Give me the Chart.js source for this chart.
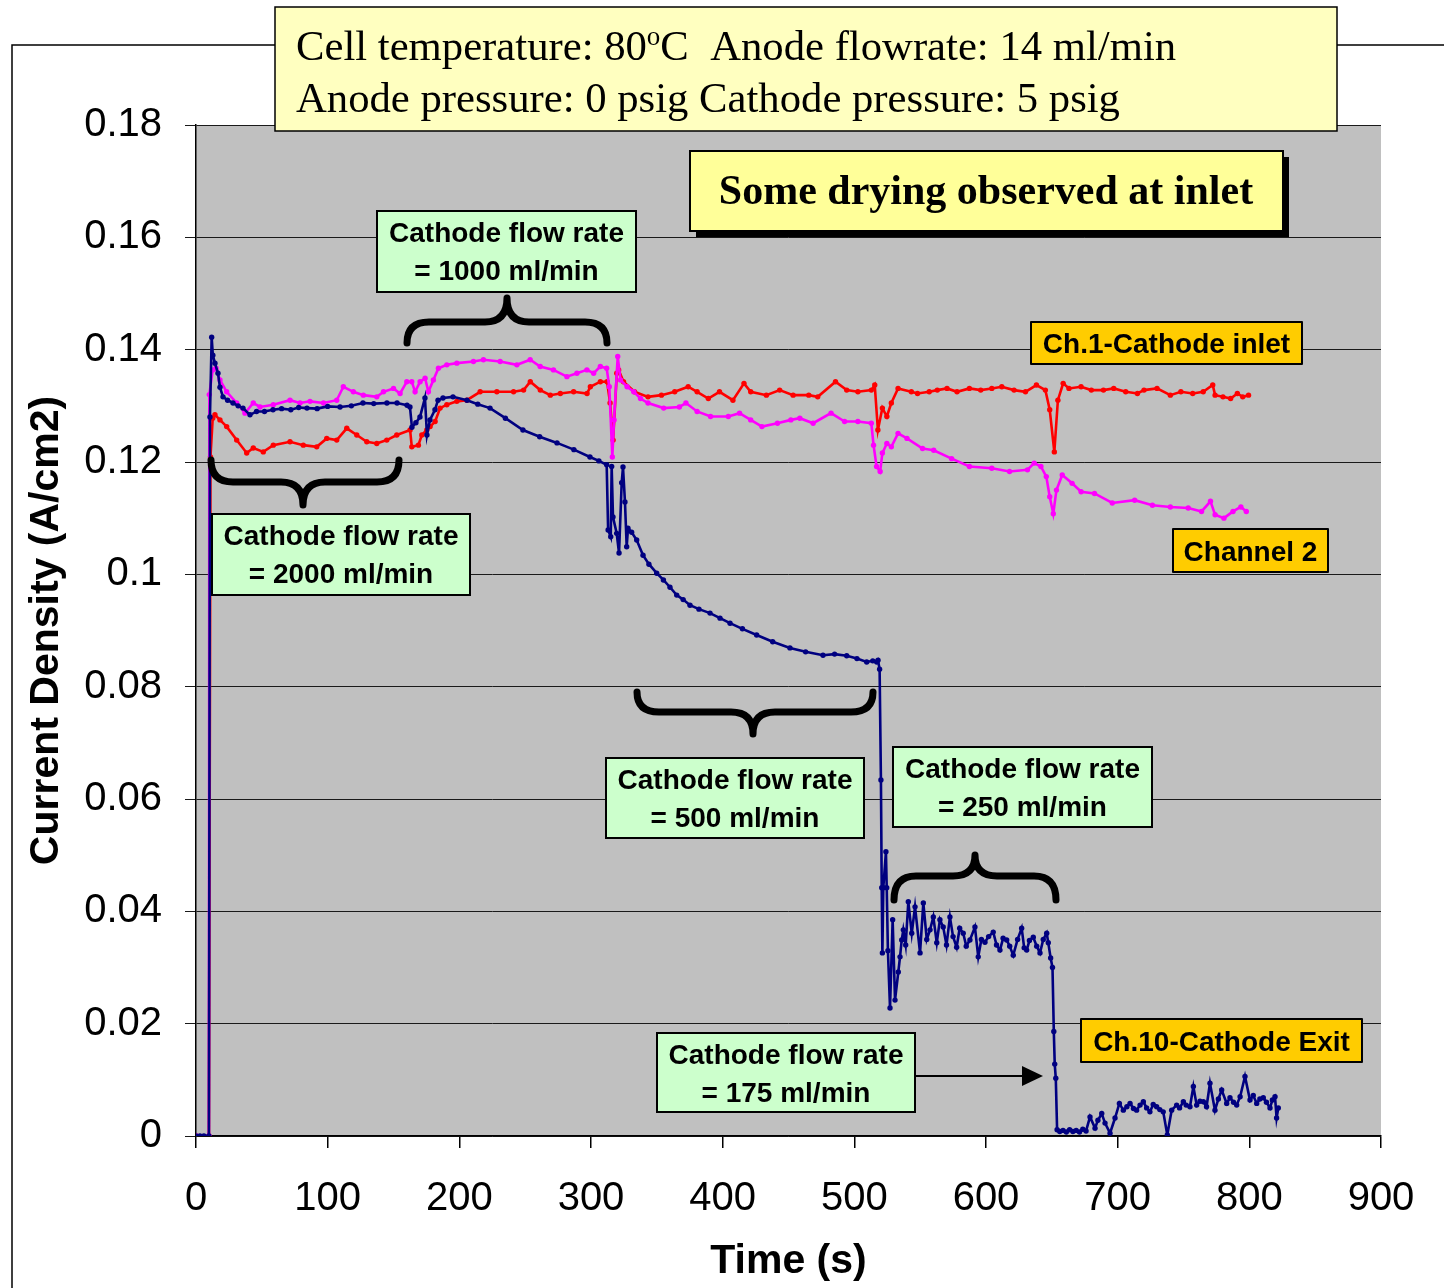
<!DOCTYPE html>
<html>
<head>
<meta charset="utf-8">
<script src="https://cdn.jsdelivr.net/npm/chart.js@4.4.1/dist/chart.umd.min.js"></script>
<style>
body{margin:0;background:#fff}
canvas{display:block}
</style>
</head>
<body>
<canvas id="grafico" width="1444" height="1288"></canvas>
<script>
// [time (s), current density (A/cm2)]
var exitData = [
 [0,0],[3,0],[6,0],[9.8,0],[10.6,0.128],[11.9,0.1422],[12.8,0.139],[14.4,0.1376],[16.7,0.1358],[18.2,0.1333],
 [20.5,0.1316],[24,0.131],[28.1,0.1305],[32,0.130],[35.7,0.1296],[41,0.1284],[46,0.1290],[52,0.1290],[58.5,0.1293],
 [65,0.1295],[72,0.1293],[78,0.1297],[84.3,0.1296],[92,0.1295],[100,0.1299],[109.4,0.1298],[118,0.1300],[126.8,0.1305],
 [135,0.1304],[145,0.1305],[152.7,0.1305],[160.3,0.1301],[162.5,0.1298],[164,0.1262],[167,0.1270],[170.1,0.128],
 [173.9,0.1314],[175.4,0.1248],[177.7,0.1275],[181.5,0.1293],[183.8,0.131],[187.6,0.1314],[195.2,0.1316],[205.8,0.131],
 [214,0.1303],[223.3,0.1296],[235,0.1278],[248.3,0.1257],[261,0.1245],[274.2,0.1234],[287,0.1222],[299.2,0.1209],
 [306,0.1202],[311.9,0.1195],[313,0.1079],[315,0.1067],[315.7,0.1192],[316.7,0.1102],[319.5,0.1073],[321.3,0.1038],
 [323.3,0.1163],[324.3,0.1191],[325.8,0.1129],[327.1,0.1049],[328.1,0.1082],[330.9,0.1075],[334.7,0.1061],[339.5,0.1034],
 [344,0.1018],[349.9,0.1002],[355,0.0990],[360,0.0977],[365.1,0.0963],[370,0.0955],[375.2,0.0945],[382,0.0938],
 [390.4,0.0931],[398,0.0922],[405.6,0.0913],[415,0.0903],[425.8,0.0892],[438,0.0880],[451.1,0.0869],[463,0.0862],
 [476.2,0.0856],[485,0.0858],[494.2,0.0855],[502,0.0850],[509.4,0.0844],[514,0.0846],[517,0.0844],[518,0.0847],
 [519.2,0.0831],[520.2,0.0634],[520.8,0.0442],[521.3,0.0326],[522,0.0442],[524,0.0506],[524.6,0.0442],[525.5,0.0330],
 [527.1,0.0228],[529.1,0.0385],[530.9,0.0242],[533.4,0.0292],[534.7,0.0319],[536,0.0349],[537.2,0.0367],[539,0.0340],
 [541,0.0417],[543.6,0.0361],[546.1,0.0408],[549.9,0.0326],[552.4,0.0415],[555,0.0350],[557.5,0.0367],[560,0.0390],
 [562.6,0.0344],[565,0.0385],[567.5,0.0372],[570,0.0340],[572.6,0.0390],[575,0.0355],[577.7,0.0336],[580,0.0370],
 [582.7,0.0361],[585,0.0338],[587.8,0.0349],[591.6,0.0372],[594.1,0.0319],[596.5,0.0350],[599.2,0.0345],[602,0.0355],
 [605.5,0.0363],[608,0.0340],[610.6,0.0331],[613,0.0352],[615.7,0.0349],[618,0.0338],[620.7,0.0322],[624,0.0350],
 [627.1,0.0370],[629,0.0335],[630.9,0.0331],[633,0.0348],[635.9,0.0354],[638.5,0.0338],[641,0.0326],[643.5,0.0350],
 [646.1,0.0361],[647.3,0.0344],[649.1,0.0317],[650.5,0.0300],[651.5,0.0186],[652.2,0.0128],[653,0.0103],[654,0.0011],
 [656,0.0008],[658.5,0.0010],[661,0.0007],[663.5,0.0011],[666,0.0008],[668.5,0.0010],[671,0.0007],[673.5,0.0012],
 [676,0.0009],[679,0.0034],[682.8,0.0014],[685,0.0028],[687.9,0.0040],[690.4,0.0023],[694.2,0.0005],[698,0.0032],
 [701.3,0.0058],[704.3,0.0046],[707,0.0052],[709.4,0.0058],[712,0.0049],[714.4,0.0046],[717,0.0055],[719.5,0.0061],
 [722,0.0050],[724.5,0.0043],[727,0.0056],[729.6,0.0052],[732,0.0047],[734.6,0.0043],[737.7,0.0002],[741,0.0046],
 [744.8,0.0055],[747,0.0050],[749.9,0.0061],[752,0.0055],[754.9,0.0052],[757.5,0.0088],[760,0.0055],[762.5,0.0062],
 [765.1,0.0061],[767.5,0.0052],[770.1,0.0094],[773.9,0.0046],[776.5,0.0066],[779,0.0082],[782.8,0.0058],[785.3,0.0068],
 [788,0.0060],[790.4,0.0055],[793,0.0070],[796.7,0.0106],[800.5,0.0064],[803,0.0072],[805.6,0.0058],[808,0.0066],
 [810.6,0.0068],[813,0.0060],[815.7,0.0050],[817.5,0.0064],[819.5,0.0070],[820.7,0.0032],[822,0.0050]
];

var channel2Data = [
 [0,0],[9.8,0],[10.1,0.132],[12.7,0.1364],[15.2,0.1367],[18.2,0.1346],[23.3,0.1325],[30.9,0.1305],[37.2,0.1287],
 [43.5,0.1305],[48.6,0.1298],[58.7,0.1302],[71.4,0.131],[79,0.1305],[86.6,0.1308],[96.8,0.1305],[106.9,0.131],
 [111.9,0.1334],[119.5,0.1325],[127.1,0.1319],[137.3,0.1316],[142.4,0.1325],[150,0.1331],[155,0.1322],[160.1,0.1343],
 [163.9,0.1343],[166.4,0.1325],[170.2,0.1343],[174,0.1349],[176.5,0.1325],[180.3,0.1346],[184.1,0.1367],[190.5,0.1373],
 [198.1,0.1376],[210.7,0.1379],[218.3,0.1382],[231,0.1379],[243.7,0.1373],[253.8,0.1382],[261.4,0.137],[271.5,0.1364],
 [281.7,0.1352],[289.3,0.1358],[296.9,0.1364],[302,0.1358],[307.1,0.137],[311.9,0.1367],[313.9,0.1334],[316.2,0.1209],
 [317.5,0.1275],[320.3,0.1388],[322.4,0.1346],[327.4,0.1334],[332.5,0.1325],[337.6,0.1313],[343.3,0.1305],[355.2,0.1296],
 [367.1,0.1298],[372.1,0.1305],[380.6,0.129],[390.8,0.1281],[404.3,0.1281],[412.8,0.1287],[421.3,0.1275],[429.8,0.1263],
 [441.6,0.1269],[451.8,0.1275],[458.6,0.1278],[468.7,0.1269],[482.3,0.1287],[492.6,0.1272],[502.7,0.1272],[512.9,0.1269],
 [514.6,0.123],[516.9,0.1192],[519.6,0.1183],[521.3,0.1216],[524.7,0.1233],[528.1,0.1227],[533.2,0.1251],[540,0.1242],
 [551.8,0.1224],[560.3,0.1221],[573.9,0.1206],[587.4,0.1192],[604.4,0.1189],[617.9,0.1183],[631.5,0.1186],[636.6,0.1198],
 [641.7,0.1192],[645.8,0.1174],[648.4,0.1138],[651.1,0.1108],[653.5,0.115],[657.9,0.1177],[665.4,0.1162],[672.2,0.1147],
 [682.4,0.1144],[695.9,0.1127],[712.9,0.1132],[726.4,0.1123],[740,0.112],[753.6,0.1118],[763.7,0.1112],[770.5,0.113],
 [774,0.1106],[780.7,0.11],[787.6,0.1112],[793.6,0.112],[797.7,0.1112]
];

var inletData = [
 [0,0],[9.8,0],[11,0.1209],[12.7,0.1278],[14.4,0.1284],[18.2,0.1275],[23.3,0.1263],[30.9,0.1239],[38.5,0.1216],
 [43.5,0.1225],[51.1,0.1218],[58.7,0.123],[71.4,0.1236],[81.5,0.123],[91.7,0.1227],[99.3,0.1242],[106.9,0.1239],
 [114.5,0.126],[122.1,0.1248],[129.7,0.1236],[137.3,0.1233],[144.9,0.1239],[152.5,0.1248],[162.6,0.1257],[163.9,0.1227],
 [168.9,0.123],[171.5,0.1248],[175.3,0.1257],[177.8,0.1263],[181.6,0.1272],[185.4,0.1296],[190.5,0.1302],[198.1,0.1308],
 [205.7,0.131],[215.8,0.1325],[228.5,0.1325],[241.2,0.1325],[248.8,0.1328],[253.9,0.1343],[261.5,0.1328],[269.1,0.1319],
 [276.7,0.1322],[286.8,0.1325],[297,0.1322],[299.5,0.1334],[307.1,0.1343],[312.2,0.1343],[314.5,0.1305],[316.8,0.1239],
 [319.6,0.1358],[321,0.1364],[324.7,0.1343],[333,0.1325],[343.3,0.1316],[353.5,0.1319],[363.6,0.1325],[373.8,0.1334],
 [380.6,0.1325],[389.1,0.1313],[397.6,0.1325],[407.8,0.131],[416.2,0.134],[421.3,0.1325],[433.2,0.1319],[443.3,0.1328],
 [453.5,0.1319],[465.4,0.1319],[472.2,0.1316],[485.7,0.1343],[494.2,0.1328],[502.7,0.1325],[512.9,0.1328],[515.5,0.1337],
 [517.9,0.1257],[521.3,0.1296],[524.7,0.1281],[528.1,0.1305],[533.2,0.1331],[543.3,0.1325],[548,0.1322],[556.9,0.1325],
 [563,0.1328],[570.4,0.1331],[578,0.1325],[587.4,0.1331],[596,0.1328],[604.4,0.1331],[612,0.1334],[621.3,0.1328],
 [630,0.1325],[638.3,0.1337],[645.1,0.1328],[648.4,0.1293],[651.9,0.1218],[654.6,0.131],[658.6,0.134],[663,0.1331],
 [672.2,0.1334],[680,0.1328],[689.2,0.1328],[697,0.1331],[706.1,0.1325],[715,0.1322],[720,0.1328],[729.9,0.1331],
 [740,0.1319],[748,0.1325],[757,0.1322],[765,0.1325],[772.2,0.1337],[774,0.1319],[780,0.1316],[785.8,0.1313],
 [790.9,0.1322],[795,0.1316],[799.4,0.1319]
];

function pts(arr){ return arr.map(function(p){ return {x:p[0], y:p[1]}; }); }

var SANS = '"Liberation Sans", Arial, sans-serif';
var SERIF = '"Liberation Serif", "Times New Roman", serif';

function box(ctx, x, y, w, h, fill, lw){
  ctx.fillStyle = fill;
  ctx.fillRect(x, y, w, h);
  ctx.lineWidth = lw;
  ctx.strokeStyle = '#000';
  ctx.strokeRect(x, y, w, h);
}

function textC(ctx, s, x, y, font){
  ctx.font = font;
  ctx.fillStyle = '#000';
  ctx.textAlign = 'center';
  ctx.textBaseline = 'alphabetic';
  ctx.fillText(s, x, y);
}

// curly brace: ends at yEnd, straight part at yMid, tip at yTip
function brace(ctx, x1, x2, xc, yEnd, yMid, yTip){
  var r = 22;
  ctx.beginPath();
  ctx.moveTo(x1, yEnd);
  ctx.quadraticCurveTo(x1, yMid, x1 + r, yMid);
  ctx.lineTo(xc - r, yMid);
  ctx.quadraticCurveTo(xc, yMid, xc, yTip);
  ctx.quadraticCurveTo(xc, yMid, xc + r, yMid);
  ctx.lineTo(x2 - r, yMid);
  ctx.quadraticCurveTo(x2, yMid, x2, yEnd);
  ctx.lineWidth = 7;
  ctx.lineCap = 'round';
  ctx.lineJoin = 'round';
  ctx.strokeStyle = '#000';
  ctx.stroke();
}

function greenBox(ctx, x, y, w, h, line2){
  box(ctx, x, y, w, h, '#CCFFCC', 2);
  var cx = x + w / 2;
  textC(ctx, 'Cathode flow rate', cx, y + 31, 'bold 28px ' + SANS);
  textC(ctx, line2, cx, y + 69, 'bold 28px ' + SANS);
}

function orangeBox(ctx, x, y, w, h, s){
  box(ctx, x, y, w, h, '#FFCC00', 2);
  textC(ctx, s, x + w / 2, y + h / 2 + 10, 'bold 28px ' + SANS);
}

var fondo = {
  id: 'fondo',
  beforeDraw: function(chart){
    var ctx = chart.ctx, a = chart.chartArea;
    ctx.save();
    ctx.fillStyle = '#C0C0C0';
    ctx.fillRect(a.left, a.top, a.right - a.left, a.bottom - a.top);
    ctx.strokeStyle = '#000';
    ctx.lineWidth = 1.5;
    ctx.beginPath();
    ctx.moveTo(12, 1290);
    ctx.lineTo(12, 45);
    ctx.lineTo(1446, 45);
    ctx.stroke();
    ctx.restore();
  }
};

var notas = {
  id: 'notas',
  afterDraw: function(chart){
    var ctx = chart.ctx;
    ctx.save();

    // conditions box
    box(ctx, 275, 7, 1062, 124, '#FFFFC0', 1.5);
    ctx.fillStyle = '#000';
    ctx.textAlign = 'left';
    ctx.textBaseline = 'alphabetic';
    var f = '42.7px ' + SERIF;
    ctx.font = f;
    var s1 = 'Cell temperature: 80';
    ctx.fillText(s1, 296, 60);
    var x = 296 + ctx.measureText(s1).width;
    ctx.font = '27px ' + SERIF;
    ctx.fillText('o', x, 45);
    x += ctx.measureText('o').width;
    ctx.font = f;
    ctx.fillText('C  Anode flowrate: 14 ml/min', x, 60);
    ctx.fillText('Anode pressure: 0 psig Cathode pressure: 5 psig', 296, 112);

    // drying note with shadow
    ctx.fillStyle = '#000';
    ctx.fillRect(696, 157, 593, 80);
    box(ctx, 690, 151, 593, 80, '#FFFF99', 2);
    textC(ctx, 'Some drying observed at inlet', 986, 204, 'bold 42px ' + SERIF);

    // flow-rate labels
    greenBox(ctx, 377, 211, 259, 81, '= 1000 ml/min');
    greenBox(ctx, 212, 514, 258, 81, '= 2000 ml/min');
    greenBox(ctx, 606, 758, 258, 80, '= 500 ml/min');
    greenBox(ctx, 893, 747, 259, 80, '= 250 ml/min');
    greenBox(ctx, 657, 1033, 258, 79, '= 175 ml/min');

    // braces
    brace(ctx, 407, 607, 507, 343, 322, 298);
    brace(ctx, 211, 399, 303, 460, 482, 505);
    brace(ctx, 637, 873, 753, 692, 712, 734);
    brace(ctx, 894, 1056, 975, 900, 876, 855);

    // arrow to the exit drop
    ctx.strokeStyle = '#000';
    ctx.lineWidth = 2;
    ctx.beginPath();
    ctx.moveTo(915, 1076);
    ctx.lineTo(1026, 1076);
    ctx.stroke();
    ctx.fillStyle = '#000';
    ctx.beginPath();
    ctx.moveTo(1043, 1076);
    ctx.lineTo(1022, 1066);
    ctx.lineTo(1022, 1086);
    ctx.closePath();
    ctx.fill();

    // channel labels
    orangeBox(ctx, 1031, 322, 271, 42, 'Ch.1-Cathode inlet');
    orangeBox(ctx, 1173, 529, 155, 43, 'Channel 2');
    orangeBox(ctx, 1081, 1019, 281, 43, 'Ch.10-Cathode Exit');

    ctx.restore();
  }
};

function serie(label, data, color){
  return {
    label: label,
    data: pts(data),
    borderColor: color,
    backgroundColor: color,
    borderWidth: 2.6,
    pointRadius: 2.7,
    pointBorderWidth: 0,
    pointBackgroundColor: color,
    tension: 0
  };
}

var ctx = document.getElementById('grafico').getContext('2d');
var myChart = new Chart(ctx, {
  type: 'line',
  data: {
    datasets: [
      serie('Ch.10-Cathode Exit', exitData, '#000080'),
      serie('Channel 2', channel2Data, '#FF00FF'),
      serie('Ch.1-Cathode inlet', inletData, '#FF0000')
    ]
  },
  options: {
    responsive: false,
    animation: false,
    events: [],
    layout: { padding: { left: 0, top: 125, right: 63, bottom: 0 } },
    plugins: {
      legend: { display: false },
      tooltip: { enabled: false }
    },
    scales: {
      x: {
        type: 'linear',
        min: 0,
        max: 900,
        afterFit: function(scale){ scale.height = 152; },
        ticks: {
          stepSize: 100,
          color: '#000',
          font: { family: SANS, size: 40 },
          padding: 27,
          maxRotation: 0
        },
        grid: { drawOnChartArea: false, drawTicks: true, tickLength: 12, color: '#000', lineWidth: 1.5 },
        border: { display: true, color: '#000', width: 1.5 },
        title: {
          display: true,
          text: 'Time (s)',
          color: '#000',
          font: { family: SANS, size: 41, weight: 'bold' },
          padding: { top: 0, bottom: 2 }
        }
      },
      y: {
        min: 0,
        max: 0.18,
        afterFit: function(scale){ scale.width = 196; },
        ticks: {
          stepSize: 0.02,
          color: '#000',
          font: { family: SANS, size: 40 },
          padding: 23,
          callback: function(v){ return String(+v.toFixed(2)); }
        },
        grid: { drawOnChartArea: true, drawTicks: true, tickLength: 11, color: '#1a1a1a', lineWidth: 1 },
        border: { display: true, color: '#000', width: 1.5 },
        title: {
          display: true,
          text: 'Current Density (A/cm2)',
          color: '#000',
          font: { family: SANS, size: 41, weight: 'bold' },
          padding: { top: 22, bottom: 0 }
        }
      }
    }
  },
  plugins: [fondo, notas]
});
</script>
</body>
</html>
